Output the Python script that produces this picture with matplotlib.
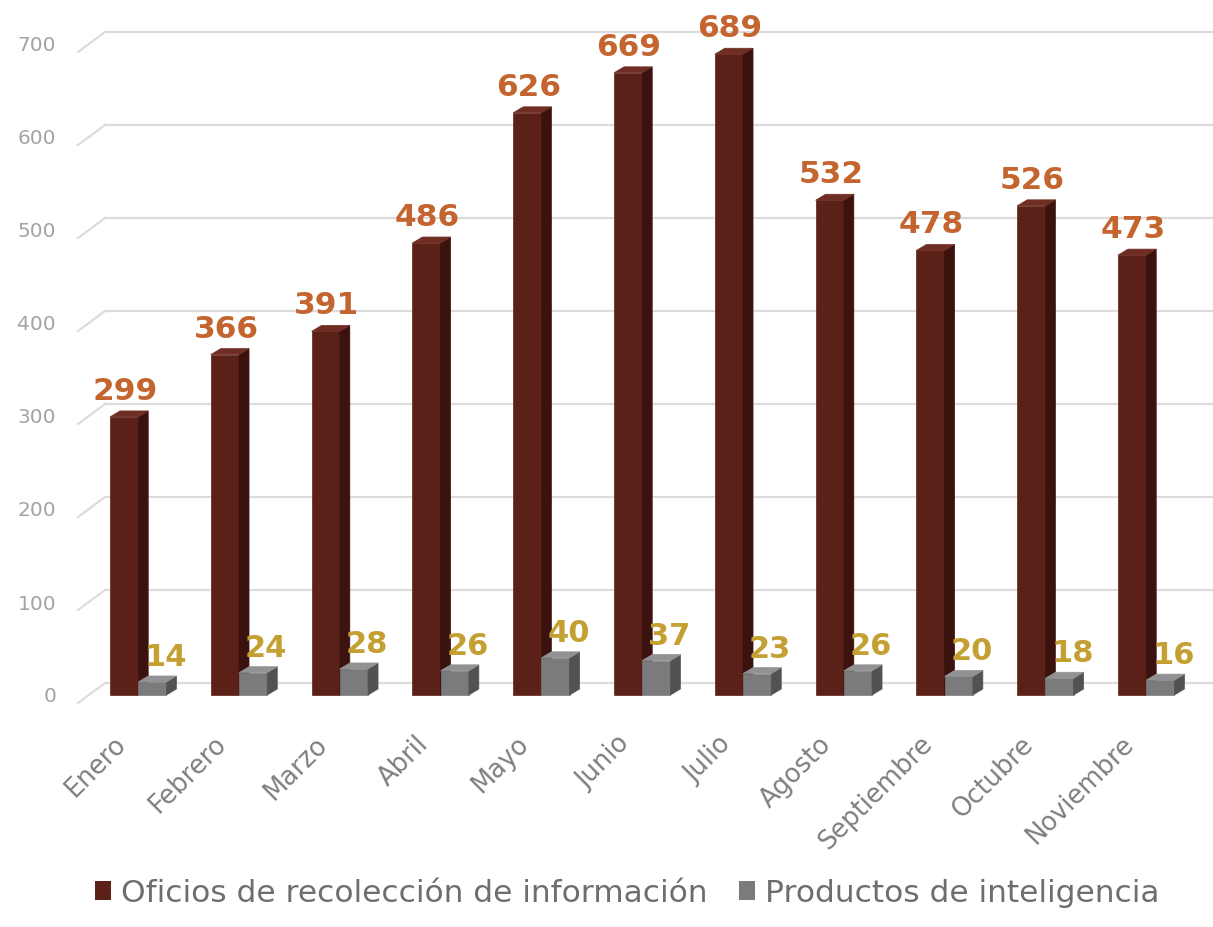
import matplotlib.pyplot as plt
from matplotlib.patches import Polygon, Patch
from matplotlib.transforms import ScaledTranslation

# data
meses = ["Enero", "Febrero", "Marzo", "Abril", "Mayo", "Junio", "Julio",
         "Agosto", "Septiembre", "Octubre", "Noviembre"]
oficios = [299, 366, 391, 486, 626, 669, 689, 532, 478, 526, 473]
productos = [14, 24, 28, 26, 40, 37, 23, 26, 20, 18, 16]
yticks = [0, 100, 200, 300, 400, 500, 600, 700]
serie_nombres = ["Oficios de recolección de información", "Productos de inteligencia"]

# colours (front, side, top)
brown = ("#5b2119", "#3b120d", "#6f2d23")
grey = ("#7b7b7d", "#525254", "#929294")
lbl_orange = "#c4652f"
lbl_gold = "#c4a033"

plt.rcParams['font.family'] = ['DejaVu Sans']

W, H = 1213, 927
fig = plt.figure(figsize=(W / 100, H / 100), dpi=100)
# axes placed in pixels: left 70, right 1213, top 10, bottom 710
ax = fig.add_axes([70 / W, 1 - 710 / H, (W - 70) / W, 700 / H])

px_x = 100.8   # pixels per category
px_y = 0.93    # pixels per value unit
ax.set_xlim((70 - 110) / px_x, (W - 110) / px_x)
ax.set_ylim(-(710 - 695) / px_y, (695 - 10) / px_y)

bw = 0.28                 # front face width
ddx = 10 / px_x           # depth offset of bars
ddy = 6 / px_y
front_dy = -8 / px_y      # front wall offset (labels)
back_dy = 12 / px_y       # back wall offset (grid)
wall_x0 = (78 - 110) / px_x
wall_x1 = (105 - 110) / px_x


def bar3d(x, v, cols):
    f, s, t = cols
    ax.bar(x, v, width=bw, align='edge', color=f, edgecolor=f, linewidth=0.5, zorder=3)
    ax.add_patch(Polygon([(x + bw, 0), (x + bw + ddx, ddy), (x + bw + ddx, v + ddy), (x + bw, v)],
                         closed=True, facecolor=s, edgecolor=s, lw=0.5, zorder=3))
    ax.add_patch(Polygon([(x, v), (x + bw, v), (x + bw + ddx, v + ddy), (x + ddx, v + ddy)],
                         closed=True, facecolor=t, edgecolor=t, lw=0.5, zorder=3))


# back wall grid lines with the slanted connector on the side wall
for v in yticks:
    ax.plot([wall_x1, ax.get_xlim()[1]], [v + back_dy, v + back_dy], color='#dcdcdc', lw=1.6, zorder=1)
    ax.plot([wall_x0, wall_x1], [v + front_dy, v + back_dy], color='#dcdcdc', lw=1.6, zorder=1,
            clip_on=False)

for i in range(len(meses)):
    bar3d(i, oficios[i], brown)
    bar3d(i + bw, productos[i], grey)
    ax.text(i + bw / 2 + 0.01, oficios[i] + ddy + 5 / px_y, str(oficios[i]), ha='center', va='bottom',
            fontsize=22.5, fontweight='bold', color=lbl_orange, zorder=4)
    ax.text(i + 0.55, productos[i] + ddy + 4 / px_y, str(productos[i]), ha='center', va='bottom',
            fontsize=22, fontweight='bold', color=lbl_gold, zorder=4)

ax.set_yticks(yticks)
ax.set_yticklabels([str(v) for v in yticks], fontsize=14.5, color='#a3a3a3')
off = ScaledTranslation(0, -8 / 100, fig.dpi_scale_trans)
for lab in ax.get_yticklabels():
    lab.set_transform(lab.get_transform() + off)
ax.tick_params(axis='y', length=0, pad=10)

ax.set_xticks([i + 0.12 for i in range(len(meses))])
ax.set_xticklabels(meses, rotation=45, ha='right', va='center', rotation_mode='anchor',
                   fontsize=18.5, color='#7f7f7f')
ax.tick_params(axis='x', length=0, pad=22)

for sp in ax.spines.values():
    sp.set_visible(False)
ax.patch.set_alpha(0)

handles = [Patch(facecolor=brown[0]), Patch(facecolor=grey[0])]
fig.legend(handles, serie_nombres, loc='center', bbox_to_anchor=(627 / W, 1 - 893 / H), ncol=2,
           frameon=False, fontsize=22.5, labelcolor='#6e6e6e', handlelength=0.52, handleheight=0.52,
           handletextpad=0.32, columnspacing=1.0)

fig.savefig("out.png", dpi=100)
